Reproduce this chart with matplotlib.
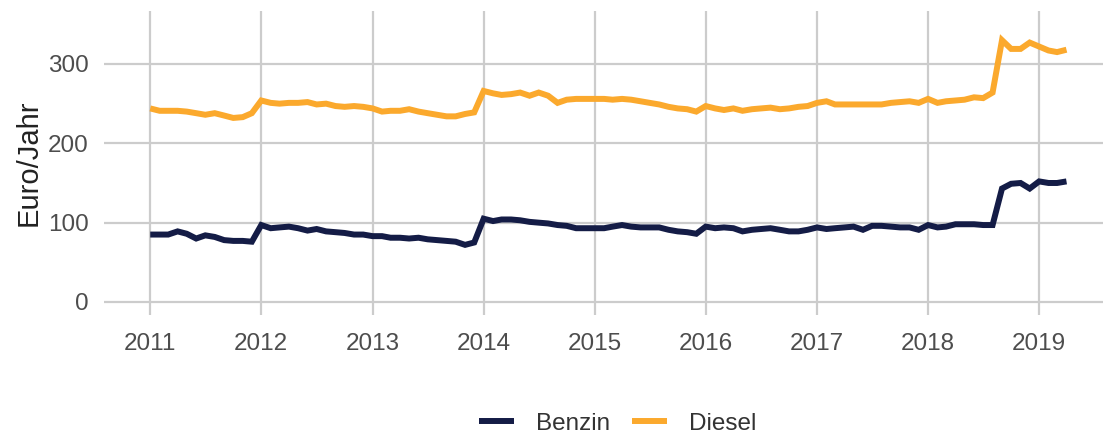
import matplotlib
matplotlib.use("Agg")
import matplotlib.pyplot as plt
import matplotlib.dates as mdates
import pandas as pd

# monthly values, Jan 2011 .. Apr 2019
start = "2011-01-01"
benzin = [
    85, 85, 85, 89, 86, 80, 84, 82, 78, 77, 77, 76,          # 2011
    97, 93, 94, 95, 93, 90, 92, 89, 88, 87, 85, 85,          # 2012
    83, 83, 81, 81, 80, 81, 79, 78, 77, 76, 72, 75,          # 2013
    105, 102, 104, 104, 103, 101, 100, 99, 97, 96, 93, 93,   # 2014
    93, 93, 95, 97, 95, 94, 94, 94, 91, 89, 88, 86,          # 2015
    95, 93, 94, 93, 89, 91, 92, 93, 91, 89, 89, 91,          # 2016
    94, 92, 93, 94, 95, 91, 96, 96, 95, 94, 94, 91,          # 2017
    97, 94, 95, 98, 98, 98, 97, 97, 143, 149, 150, 143,      # 2018
    152, 150, 150, 152,                                      # 2019
]
diesel = [
    244, 241, 241, 241, 240, 238, 236, 238, 235, 232, 233, 238,  # 2011
    254, 251, 250, 251, 251, 252, 249, 250, 247, 246, 247, 246,  # 2012
    244, 240, 241, 241, 243, 240, 238, 236, 234, 234, 237, 239,  # 2013
    266, 263, 261, 262, 264, 260, 264, 260, 251, 255, 256, 256,  # 2014
    256, 256, 255, 256, 255, 253, 251, 249, 246, 244, 243, 240,  # 2015
    247, 244, 242, 244, 241, 243, 244, 245, 243, 244, 246, 247,  # 2016
    251, 253, 249, 249, 249, 249, 249, 249, 251, 252, 253, 251,  # 2017
    256, 251, 253, 254, 255, 258, 257, 264, 330, 319, 319, 327,  # 2018
    322, 317, 315, 318,                                          # 2019
]
series = ["Benzin", "Diesel"]
colors = ["#141c46", "#fba92d"]
years = list(range(2011, 2020))
yticks = [0, 100, 200, 300]

dates = pd.date_range(start, periods=len(benzin), freq="MS")

plt.rcParams["font.family"] = ["Liberation Sans", "DejaVu Sans"]

fig = plt.figure(figsize=(11.03, 4.37), dpi=100)
ax = fig.add_axes([104 / 1103, 1 - 315 / 437, 1 - 104 / 1103, (315 - 11) / 437])

for name, vals, col in zip(series, [benzin, diesel], colors):
    ax.plot(dates, vals, color=col, lw=4.3, label=name, solid_joinstyle="miter",
            solid_capstyle="butt", zorder=3)

ax.set_xlim(pd.Timestamp("2010-08-02"), pd.Timestamp("2019-07-30"))
ax.set_ylim(-16.4, 366.8)
ax.set_xticks([pd.Timestamp(f"{y}-01-01") for y in years])
ax.xaxis.set_major_formatter(mdates.DateFormatter("%Y"))
ax.set_yticks(yticks)

ax.grid(True, color="#cccccc", lw=1.6, zorder=0)
for s in ax.spines.values():
    s.set_visible(False)
ax.tick_params(length=0, labelsize=17.5, labelcolor="#4d4d4d")
ax.tick_params(axis="x", pad=13)
ax.tick_params(axis="y", pad=11)
ax.set_ylabel("Euro/Jahr", fontsize=21, color="#222222", labelpad=4)

fig.legend(loc="lower center", bbox_to_anchor=(0.56, -0.045), ncol=2, frameon=False,
           fontsize=17.5, handlelength=1.45, handletextpad=0.9, columnspacing=0.9,
           labelcolor="#333333")

fig.savefig("out.png", dpi=100)
